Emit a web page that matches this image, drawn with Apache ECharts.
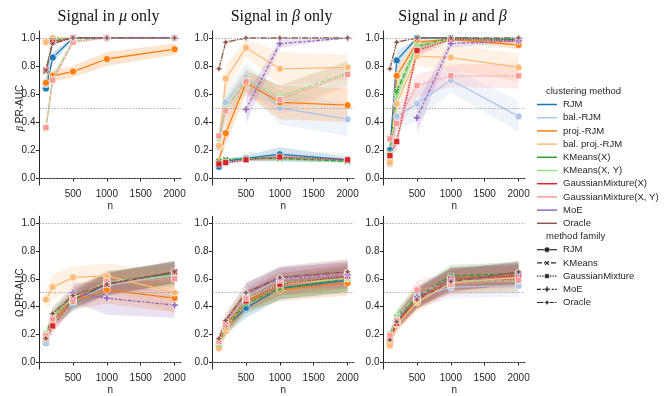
<!DOCTYPE html>
<html>
<head>
<meta charset="utf-8">
<script src="https://cdn.jsdelivr.net/npm/echarts@6/dist/echarts.min.js"></script>
<style>
html, body { margin: 0; padding: 0; background: #fff; }
#chart { width: 664px; height: 396px; }
</style>
</head>
<body>
<div id="chart"></div>
<script>
// sample sizes and methods
const n = [100, 200, 500, 1000, 2000];
const methods = ['RJM', 'bal.-RJM', 'proj.-RJM', 'bal. proj.-RJM', 'KMeans(X)', 'KMeans(X, Y)',
  'GaussianMixture(X)', 'GaussianMixture(X, Y)', 'MoE', 'Oracle'];
const families = ['RJM', 'KMeans', 'GaussianMixture', 'MoE', 'Oracle'];
const methodFamily = [0, 0, 0, 0, 1, 1, 2, 2, 3, 4];
const colors = ['#1f77b4', '#aec7e8', '#ff7f0e', '#ffbb78', '#2ca02c', '#98df8a',
  '#d62728', '#ff9896', '#9467bd', '#8c564b'];
const xTicks = [500, 1000, 1500, 2000];
const yTicks = [0, 0.2, 0.4, 0.6, 0.8, 1.0];
const refLines = [0, 0.5, 1.0];

// beta PR-AUC, signal in mu only (rows follow methods)
const betaMu = [
  [0.64, 0.86, 1.0, 1.0, 1.0],
  [0.67, 0.99, 1.0, 1.0, 1.0],
  [0.68, 0.73, 0.76, 0.85, 0.92],
  [0.97, 1.0, 1.0, 1.0, 1.0],
  [0.76, 0.98, 1.0, 1.0, 1.0],
  [0.35, 0.71, 0.98, 1.0, 1.0],
  [0.77, 0.97, 1.0, 1.0, 1.0],
  [0.36, 0.70, 0.97, 1.0, 1.0],
  [null, null, 1.0, 1.0, 1.0],
  [0.77, 0.96, 1.0, 1.0, 1.0]
];
const betaMuErr = [
  [0.03, 0.04, 0.005, 0, 0],
  [0.04, 0.01, 0, 0, 0],
  [0.03, 0.04, 0.04, 0.05, 0.04],
  [0.02, 0, 0, 0, 0],
  [0.03, 0.01, 0, 0, 0],
  [0.03, 0.04, 0.01, 0, 0],
  [0.03, 0.01, 0, 0, 0],
  [0.03, 0.04, 0.01, 0, 0],
  [null, null, 0, 0, 0],
  [0.02, 0.01, 0, 0, 0]
];

// beta PR-AUC, signal in beta only
const betaBeta = [
  [0.08, 0.12, 0.14, 0.17, 0.13],
  [0.22, 0.54, 0.72, 0.50, 0.42],
  [0.12, 0.32, 0.68, 0.54, 0.52],
  [0.23, 0.71, 0.93, 0.78, 0.79],
  [0.12, 0.13, 0.14, 0.14, 0.12],
  [0.28, 0.50, 0.70, 0.58, 0.75],
  [0.10, 0.11, 0.13, 0.15, 0.13],
  [0.30, 0.48, 0.69, 0.56, 0.74],
  [null, null, 0.49, 0.96, 1.0],
  [0.78, 0.97, 1.0, 1.0, 1.0]
];
const betaBetaErr = [
  [0.02, 0.02, 0.02, 0.05, 0.02],
  [0.06, 0.08, 0.10, 0.12, 0.12],
  [0.03, 0.08, 0.08, 0.12, 0.12],
  [0.06, 0.09, 0.06, 0.12, 0.09],
  [0.02, 0.01, 0.01, 0.02, 0.01],
  [0.06, 0.08, 0.08, 0.08, 0.09],
  [0.02, 0.01, 0.01, 0.02, 0.01],
  [0.06, 0.08, 0.08, 0.10, 0.09],
  [null, null, 0.10, 0.03, 0],
  [0.02, 0.01, 0, 0, 0]
];

// beta PR-AUC, signal in mu and beta
const betaBoth = [
  [0.20, 0.84, 1.0, 1.0, 0.99],
  [0.10, 0.44, 0.53, 0.70, 0.44],
  [0.12, 0.73, 0.97, 0.99, 0.95],
  [0.11, 0.53, 0.87, 0.86, 0.79],
  [0.18, 0.62, 0.94, 1.0, 0.99],
  [0.17, 0.58, 0.95, 0.99, 0.98],
  [0.16, 0.26, 0.91, 0.99, 0.98],
  [0.28, 0.39, 0.66, 0.73, 0.73],
  [null, null, 0.43, 0.96, 0.98],
  [0.78, 0.97, 1.0, 1.0, 1.0]
];
const betaBothErr = [
  [0.03, 0.06, 0, 0, 0.01],
  [0.02, 0.08, 0.13, 0.09, 0.11],
  [0.02, 0.06, 0.02, 0.01, 0.03],
  [0.02, 0.08, 0.07, 0.09, 0.10],
  [0.03, 0.06, 0.03, 0, 0.01],
  [0.03, 0.06, 0.03, 0.01, 0.01],
  [0.03, 0.05, 0.04, 0.01, 0.01],
  [0.04, 0.07, 0.08, 0.08, 0.09],
  [null, null, 0.11, 0.03, 0.01],
  [0.02, 0.01, 0, 0, 0]
];

// Omega PR-AUC, signal in mu only
const omegaMu = [
  [0.14, 0.30, 0.42, 0.57, 0.64],
  [0.15, 0.28, 0.43, 0.55, 0.63],
  [0.17, 0.30, 0.44, 0.52, 0.46],
  [0.45, 0.54, 0.61, 0.62, 0.50],
  [0.20, 0.32, 0.45, 0.57, 0.64],
  [0.21, 0.33, 0.46, 0.58, 0.62],
  [0.18, 0.26, 0.45, 0.56, 0.65],
  [0.19, 0.31, 0.46, 0.58, 0.60],
  [null, null, 0.50, 0.46, 0.41],
  [0.17, 0.35, 0.48, 0.56, 0.65]
];
const omegaMuErr = [
  [0.03, 0.05, 0.05, 0.08, 0.08],
  [0.03, 0.05, 0.06, 0.08, 0.08],
  [0.03, 0.05, 0.06, 0.10, 0.10],
  [0.07, 0.09, 0.08, 0.09, 0.15],
  [0.03, 0.05, 0.06, 0.08, 0.08],
  [0.03, 0.05, 0.06, 0.08, 0.08],
  [0.03, 0.05, 0.06, 0.08, 0.08],
  [0.03, 0.05, 0.06, 0.08, 0.08],
  [null, null, 0.07, 0.12, 0.09],
  [0.03, 0.05, 0.06, 0.08, 0.08]
];

// Omega PR-AUC, signal in beta only
const omegaBeta = [
  [0.13, 0.25, 0.39, 0.53, 0.59],
  [0.14, 0.27, 0.47, 0.60, 0.63],
  [0.12, 0.23, 0.44, 0.52, 0.57],
  [0.10, 0.24, 0.45, 0.56, 0.60],
  [0.13, 0.26, 0.42, 0.53, 0.60],
  [0.14, 0.27, 0.44, 0.57, 0.60],
  [0.15, 0.27, 0.44, 0.56, 0.62],
  [0.15, 0.28, 0.46, 0.59, 0.64],
  [null, null, 0.50, 0.60, 0.63],
  [0.17, 0.30, 0.50, 0.61, 0.65]
];
const omegaBetaErr = [
  [0.03, 0.05, 0.07, 0.08, 0.09],
  [0.03, 0.05, 0.07, 0.08, 0.09],
  [0.03, 0.05, 0.07, 0.08, 0.09],
  [0.03, 0.05, 0.07, 0.08, 0.09],
  [0.03, 0.05, 0.07, 0.08, 0.09],
  [0.03, 0.05, 0.07, 0.08, 0.09],
  [0.03, 0.05, 0.07, 0.08, 0.09],
  [0.03, 0.05, 0.07, 0.08, 0.09],
  [null, null, 0.07, 0.08, 0.09],
  [0.03, 0.05, 0.07, 0.08, 0.09]
];

// Omega PR-AUC, signal in mu and beta
const omegaBoth = [
  [0.15, 0.30, 0.46, 0.60, 0.63],
  [0.15, 0.29, 0.46, 0.54, 0.55],
  [0.14, 0.28, 0.45, 0.60, 0.63],
  [0.12, 0.27, 0.43, 0.57, 0.61],
  [0.20, 0.32, 0.47, 0.62, 0.64],
  [0.19, 0.33, 0.48, 0.59, 0.58],
  [0.17, 0.28, 0.46, 0.60, 0.62],
  [0.19, 0.30, 0.52, 0.56, 0.59],
  [null, null, 0.47, 0.59, 0.64],
  [0.16, 0.29, 0.45, 0.58, 0.65]
];
const omegaBothErr = [
  [0.03, 0.05, 0.07, 0.08, 0.08],
  [0.03, 0.05, 0.07, 0.08, 0.08],
  [0.03, 0.05, 0.07, 0.08, 0.08],
  [0.03, 0.05, 0.07, 0.08, 0.08],
  [0.03, 0.05, 0.07, 0.08, 0.08],
  [0.03, 0.05, 0.07, 0.08, 0.08],
  [0.03, 0.05, 0.07, 0.08, 0.08],
  [0.03, 0.05, 0.07, 0.08, 0.08],
  [null, null, 0.07, 0.08, 0.08],
  [0.03, 0.05, 0.07, 0.08, 0.08]
];

const panels = [
  { mean: betaMu, err: betaMuErr },
  { mean: betaBeta, err: betaBetaErr },
  { mean: betaBoth, err: betaBothErr },
  { mean: omegaMu, err: omegaMuErr },
  { mean: omegaBeta, err: omegaBetaErr },
  { mean: omegaBoth, err: omegaBothErr }
];

// styling per method family
const dark = '#262626';
const sans = '"Liberation Sans", Arial, sans-serif';
const serif = '"Liberation Serif", "Times New Roman", serif';
const famDash = ['solid', [5, 2], [1.3, 1.3], [4, 1.6, 2, 1.6], [6.5, 1.3, 1.3, 1.3]];
// marker outlines in a 10x10 box
const xPts = [[2,0],[5,3],[8,0],[10,2],[7,5],[10,8],[8,10],[5,7],[2,10],[0,8],[3,5],[0,2]];
const plusPts = [[3.3,0],[6.7,0],[6.7,3.3],[10,3.3],[10,6.7],[6.7,6.7],[6.7,10],[3.3,10],[3.3,6.7],[0,6.7],[0,3.3],[3.3,3.3]];
const starPts = [[5,0],[6.6,3.4],[10,5],[6.6,6.6],[5,10],[3.4,6.6],[0,5],[3.4,3.4]];
const toPath = pts => 'path://M' + pts.map(p => p[0] + ',' + p[1]).join(' L') + ' Z';
const famPts = [null, xPts, null, plusPts, starPts];
const famSymbol = ['circle', toPath(xPts), 'rect', toPath(plusPts), toPath(starPts)];
const famSymbolSize = [7, 6.5, 6, 7, 7.5];

const gridLefts = [39.5, 212.5, 383.5];
const gridTops = [31, 216.3];

const chart = echarts.init(document.getElementById('chart'), null, { renderer: 'canvas' });

const grids = [], xAxes = [], yAxes = [], series = [];
for (let g = 0; g < 6; g++) {
  const row = Math.floor(g / 3), col = g % 3;
  grids.push({ left: gridLefts[col], top: gridTops[row], width: 141.5, height: 154 });
  xAxes.push({
    gridIndex: g, type: 'value', min: 5, max: 2095,
    name: 'n', nameLocation: 'middle', nameGap: 16, nameMoveOverlap: false,
    nameTextStyle: { fontSize: 10, color: dark, fontFamily: sans },
    axisLine: { show: true, lineStyle: { color: dark, width: 1 } },
    axisTick: { show: true, length: 3.5, customValues: xTicks, lineStyle: { color: dark } },
    axisLabel: { fontSize: 10, color: dark, fontFamily: sans, margin: 4, customValues: xTicks,
      formatter: v => String(v) },
    splitLine: { show: false }
  });
  yAxes.push({
    gridIndex: g, type: 'value', min: -0.05, max: 1.05,
    name: col === 0 ? (row === 0 ? '{i|β} PR-AUC' : 'Ω PR-AUC') : '',
    nameLocation: 'middle', nameGap: 14, nameRotate: 90, nameMoveOverlap: false,
    nameTextStyle: { fontSize: 10, color: dark, fontFamily: sans,
      rich: { i: { fontSize: 10.5, color: dark, fontFamily: serif, fontStyle: 'italic' } } },
    axisLine: { show: true, lineStyle: { color: dark, width: 1 } },
    axisTick: { show: true, length: 3.5, customValues: yTicks, lineStyle: { color: dark } },
    axisLabel: { fontSize: 10, color: dark, fontFamily: sans, margin: 4, customValues: yTicks,
      formatter: v => v.toFixed(1) },
    splitLine: { show: false }
  });

  // dotted reference lines
  series.push({
    type: 'line', xAxisIndex: g, yAxisIndex: g, data: [], z: 0, silent: true,
    markLine: {
      silent: true, symbol: 'none', animation: false, label: { show: false },
      lineStyle: { color: '#9a9a9a', type: [1.5, 1.5], width: 0.8 },
      data: refLines.map(v => ({ yAxis: v }))
    }
  });

  const p = panels[g];
  methods.forEach((m, k) => {
    const mean = p.mean[k], err = p.err[k], color = colors[k], f = methodFamily[k];
    const idx = n.map((_, i) => i).filter(i => mean[i] != null);
    // confidence band
    series.push({
      type: 'custom', xAxisIndex: g, yAxisIndex: g, data: [[1000, 0.5]], z: 1, silent: true,
      renderItem: (params, api) => {
        const up = idx.map(i => api.coord([n[i], mean[i] + err[i]]));
        const lo = idx.slice().reverse().map(i => api.coord([n[i], mean[i] - err[i]]));
        return { type: 'polygon', shape: { points: up.concat(lo) }, style: { fill: color, opacity: 0.2 } };
      }
    });
    // mean line
    series.push({
      type: 'line', name: m, xAxisIndex: g, yAxisIndex: g, z: 3,
      data: idx.map(i => [n[i], mean[i]]),
      symbol: famSymbol[f], symbolSize: famSymbolSize[f], showSymbol: true,
      lineStyle: { color: color, width: 1.3, type: famDash[f] },
      itemStyle: { color: color, borderColor: '#fff', borderWidth: 0.6 },
      emphasis: { disabled: true }
    });
  });
}

// panel titles
const titles = ['Signal in {i|μ} only', 'Signal in {i|β} only', 'Signal in {i|μ} and {i|β}'];
const graphic = titles.map((t, c) => ({
  type: 'text', x: gridLefts[c] + 69, y: 17,
  style: { text: t, font: '16px ' + serif, fill: '#111', align: 'center', verticalAlign: 'middle',
    rich: { i: { font: 'italic 16px ' + serif, fill: '#111' } } }
}));

// legend: clustering method
const lx = 537, ly = 104.5, step = 13.2;
const lfont = '9.5px ' + sans;
graphic.push({ type: 'text', x: 546, y: 91, style: { text: 'clustering method', font: lfont, fill: dark, verticalAlign: 'middle' } });
methods.forEach((m, k) => {
  const y = ly + k * step;
  graphic.push({ type: 'line', shape: { x1: lx, y1: y, x2: lx + 20, y2: y }, style: { stroke: colors[k], lineWidth: 1.5 } });
  graphic.push({ type: 'text', x: lx + 26, y: y, style: { text: m, font: lfont, fill: dark, verticalAlign: 'middle' } });
});

// legend: method family
const fy0 = ly + 10 * step;
graphic.push({ type: 'text', x: 546, y: fy0, style: { text: 'method family', font: lfont, fill: dark, verticalAlign: 'middle' } });
families.forEach((fam, f) => {
  const y = fy0 + (f + 1) * step;
  graphic.push({ type: 'line', shape: { x1: lx, y1: y, x2: lx + 20, y2: y },
    style: { stroke: dark, lineWidth: 1.2, lineDash: famDash[f] === 'solid' ? null : famDash[f] } });
  const cx = lx + 10, s = famSymbolSize[f] - 1.5;
  const mstyle = { fill: dark, stroke: '#fff', lineWidth: 0.5 };
  if (f === 0) {
    graphic.push({ type: 'circle', shape: { cx: cx, cy: y, r: s / 2 }, style: mstyle });
  } else if (f === 2) {
    graphic.push({ type: 'rect', shape: { x: cx - s / 2, y: y - s / 2, width: s, height: s }, style: mstyle });
  } else {
    const pts = famPts[f].map(q => [cx - s / 2 + q[0] * s / 10, y - s / 2 + q[1] * s / 10]);
    graphic.push({ type: 'polygon', shape: { points: pts }, style: mstyle });
  }
  graphic.push({ type: 'text', x: lx + 26, y: y, style: { text: fam, font: lfont, fill: dark, verticalAlign: 'middle' } });
});

chart.setOption({
  animation: false,
  backgroundColor: '#fff',
  grid: grids,
  xAxis: xAxes,
  yAxis: yAxes,
  series: series,
  graphic: graphic
});
</script>
</body>
</html>
